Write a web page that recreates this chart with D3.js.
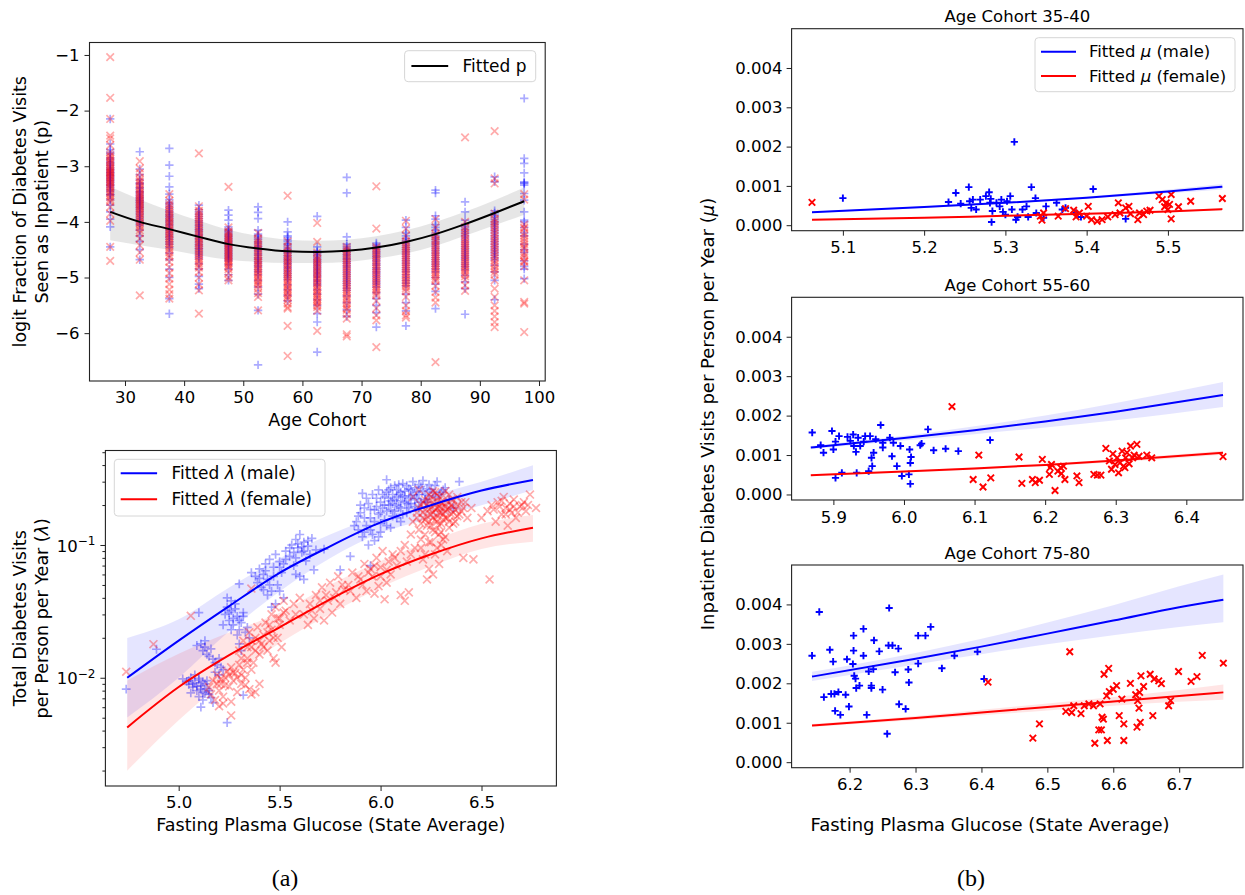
<!DOCTYPE html>
<html><head><meta charset="utf-8">
<script src="https://cdn.jsdelivr.net/npm/d3@7"></script>
<style>
body{margin:0;background:#fff;}
svg{font-family:"DejaVu Sans",sans-serif;}
</style></head><body>
<svg id="chart" width="1245" height="895"></svg>
<script>
// ================= DATA =================
// (a) top: logit of inpatient fraction by age cohort
const ageCohorts = [27.5,32.5,37.5,42.5,47.5,52.5,57.5,62.5,67.5,72.5,77.5,82.5,87.5,92.5,97.5];
const ageTicks = [30,40,50,60,70,80,90,100];
const logitTicks = [-6,-5,-4,-3,-2,-1];
const logitMale = [
 [-2.15,-2.6,-2.7,-2.78,-2.85,-2.92,-2.98,-3.02,-3.07,-3.12,-3.17,-3.22,-3.27,-3.33,-3.38,-3.45,-3.52,-3.6,-3.7,-3.82,-3.95,-4.09,-4.45],
 [-2.74,-3.05,-3.15,-3.24,-3.32,-3.4,-3.47,-3.53,-3.58,-3.63,-3.69,-3.75,-3.82,-3.9,-3.98,-4.06,-4.15,-4.25,-4.35,-4.5,-4.68],
 [-2.68,-2.98,-3.18,-3.37,-3.5,-3.6,-3.68,-3.76,-3.83,-3.9,-3.97,-4.04,-4.11,-4.19,-4.27,-4.36,-4.46,-4.56,-4.68,-4.85,-5.0,-5.38,-5.65],
 [-3.7,-3.78,-3.86,-3.94,-4.01,-4.08,-4.15,-4.22,-4.29,-4.36,-4.43,-4.5,-4.58,-4.66,-4.75,-4.85,-4.98,-5.12,-5.2],
 [-3.79,-3.88,-3.97,-4.09,-4.16,-4.22,-4.28,-4.34,-4.4,-4.46,-4.52,-4.58,-4.64,-4.7,-4.77,-4.85,-4.95,-5.05],
 [-3.73,-3.83,-3.94,-4.15,-4.22,-4.29,-4.36,-4.43,-4.5,-4.57,-4.64,-4.71,-4.78,-4.86,-4.95,-5.05,-5.17,-5.3,-5.59,-6.57],
 [-4.0,-4.18,-4.25,-4.32,-4.39,-4.46,-4.53,-4.6,-4.67,-4.74,-4.81,-4.88,-4.96,-5.04,-5.13,-5.22,-5.32,-5.42],
 [-3.9,-4.45,-4.52,-4.58,-4.64,-4.7,-4.76,-4.82,-4.88,-4.94,-5.0,-5.07,-5.14,-5.22,-5.3,-5.4,-5.5,-5.65,-5.8,-6.34],
 [-3.2,-3.48,-4.27,-4.4,-4.47,-4.54,-4.61,-4.68,-4.75,-4.82,-4.9,-4.98,-5.06,-5.14,-5.23,-5.33,-5.45,-5.58,-5.7],
 [-4.38,-4.44,-4.5,-4.57,-4.64,-4.71,-4.78,-4.85,-4.92,-5.0,-5.08,-5.17,-5.27,-5.38,-5.5,-5.63,-5.89],
 [-3.97,-4.1,-4.2,-4.3,-4.38,-4.46,-4.54,-4.62,-4.7,-4.78,-4.86,-4.95,-5.05,-5.15,-5.3,-5.45,-5.6,-5.87],
 [-3.43,-3.48,-3.89,-3.95,-4.05,-4.15,-4.24,-4.32,-4.4,-4.48,-4.56,-4.64,-4.72,-4.8,-4.9,-5.0,-5.12,-5.25,-5.56],
 [-3.64,-3.82,-3.97,-4.05,-4.13,-4.21,-4.29,-4.37,-4.45,-4.53,-4.61,-4.69,-4.77,-4.86,-4.96,-5.08,-5.2,-5.66],
 [-3.19,-3.28,-3.8,-3.88,-3.96,-4.04,-4.12,-4.2,-4.28,-4.36,-4.44,-4.52,-4.6,-4.68,-4.78,-4.9,-5.05,-5.4],
 [-1.78,-2.86,-2.95,-3.12,-3.28,-3.31,-3.49,-3.61,-3.82,-3.97,-4.1,-4.25,-4.4,-4.55,-4.7,-4.85,-5.02]
];
// additional states in the dense core of each cohort column (male)
const logitMaleCore = [
 [-2.75,-2.88,-2.95,-3.05,-3.1,-3.15,-3.2,-3.25,-3.3,-3.35,-3.42,-3.5],
 [-3.3,-3.38,-3.45,-3.5,-3.56,-3.61,-3.66,-3.72,-3.78,-3.86,-3.94,-4.02],
 [-3.65,-3.72,-3.8,-3.87,-3.93,-4.0,-4.07,-4.15,-4.23,-4.31,-4.4],
 [-3.82,-3.9,-3.98,-4.05,-4.12,-4.18,-4.25,-4.32,-4.4,-4.47,-4.54,-4.62],
 [-4.13,-4.19,-4.25,-4.31,-4.37,-4.43,-4.49,-4.55,-4.61,-4.67],
 [-4.25,-4.32,-4.39,-4.46,-4.53,-4.6,-4.67,-4.74,-4.81,-4.9],
 [-4.28,-4.35,-4.42,-4.49,-4.56,-4.63,-4.7,-4.77,-4.84,-4.92,-5.0],
 [-4.55,-4.61,-4.67,-4.73,-4.79,-4.85,-4.91,-4.97,-5.04,-5.11],
 [-4.44,-4.51,-4.58,-4.65,-4.72,-4.79,-4.86,-4.94,-5.02,-5.1,-5.19],
 [-4.41,-4.47,-4.54,-4.61,-4.68,-4.75,-4.82,-4.89,-4.96,-5.04,-5.12],
 [-4.25,-4.34,-4.42,-4.5,-4.58,-4.66,-4.74,-4.82,-4.9,-5.0,-5.1],
 [-4.1,-4.2,-4.28,-4.36,-4.44,-4.52,-4.6,-4.68,-4.76,-4.85],
 [-4.09,-4.17,-4.25,-4.33,-4.41,-4.49,-4.57,-4.65,-4.73,-4.81],
 [-3.84,-3.92,-4.0,-4.08,-4.16,-4.24,-4.32,-4.4,-4.48,-4.56,-4.64],
 [-3.3,-3.34,-4.0,-4.2,-4.5,-4.8]
];
const logitFemale = [
 [-1.04,-1.77,-2.15,-2.45,-2.5,-2.62,-2.75,-2.83,-2.9,-2.96,-3.0,-3.05,-3.1,-3.14,-3.19,-3.24,-3.29,-3.35,-3.41,-3.48,-3.56,-3.64,-3.73,-3.85,-3.98,-4.45,-4.7],
 [-2.91,-3.04,-3.12,-3.2,-3.28,-3.36,-3.43,-3.5,-3.56,-3.62,-3.68,-3.74,-3.8,-3.87,-3.94,-4.02,-4.1,-4.2,-4.3,-4.42,-4.55,-4.68,-5.32],
 [-3.5,-3.62,-3.72,-3.8,-3.88,-3.95,-4.02,-4.09,-4.16,-4.23,-4.3,-4.38,-4.46,-4.55,-4.64,-4.72,-4.82,-4.92,-5.02,-5.12,-5.22,-5.3,-5.38],
 [-2.77,-3.72,-3.8,-3.88,-3.96,-4.04,-4.12,-4.2,-4.28,-4.35,-4.42,-4.5,-4.58,-4.66,-4.74,-4.82,-4.9,-5.0,-5.12,-5.23,-5.65],
 [-3.37,-4.1,-4.17,-4.24,-4.3,-4.36,-4.42,-4.48,-4.54,-4.6,-4.66,-4.72,-4.78,-4.85,-4.92,-5.0,-5.05],
 [-4.2,-4.3,-4.38,-4.46,-4.54,-4.62,-4.7,-4.77,-4.84,-4.91,-4.98,-5.05,-5.12,-5.2,-5.28,-5.35,-5.59],
 [-3.53,-4.35,-4.45,-4.55,-4.63,-4.7,-4.77,-4.84,-4.91,-4.98,-5.05,-5.12,-5.19,-5.26,-5.33,-5.4,-5.47,-5.53,-5.56,-5.87,-6.41],
 [-4.02,-4.36,-4.55,-4.62,-4.69,-4.76,-4.83,-4.9,-4.97,-5.04,-5.11,-5.18,-5.25,-5.32,-5.39,-5.46,-5.53,-5.6,-5.96],
 [-4.45,-4.53,-4.61,-4.69,-4.77,-4.85,-4.93,-5.01,-5.09,-5.17,-5.25,-5.33,-5.41,-5.5,-5.58,-5.66,-5.74,-6.02,-6.06],
 [-3.36,-4.12,-4.45,-4.52,-4.6,-4.68,-4.76,-4.84,-4.92,-5.0,-5.08,-5.16,-5.24,-5.32,-5.42,-5.55,-5.68,-5.77,-6.25],
 [-3.98,-4.12,-4.25,-4.35,-4.44,-4.52,-4.6,-4.68,-4.76,-4.84,-4.92,-5.0,-5.08,-5.16,-5.25,-5.35,-5.5,-5.6,-5.68,-5.72],
 [-3.95,-4.1,-4.22,-4.32,-4.41,-4.5,-4.58,-4.66,-4.74,-4.82,-4.9,-4.98,-5.06,-5.15,-5.26,-5.36,-5.45,-6.52],
 [-2.48,-4.0,-4.1,-4.2,-4.3,-4.38,-4.46,-4.54,-4.62,-4.7,-4.78,-4.86,-4.94,-5.04,-5.14,-5.24],
 [-2.37,-3.22,-3.31,-3.85,-3.95,-4.05,-4.15,-4.25,-4.35,-4.45,-4.55,-4.65,-4.75,-4.85,-4.95,-5.05,-5.2,-5.35,-5.5,-5.6,-5.7,-5.8,-5.89],
 [-3.5,-3.6,-4.05,-4.12,-4.2,-4.3,-4.4,-4.48,-4.56,-4.64,-4.72,-4.8,-5.05,-5.44,-5.47,-5.98]
];
const logitFemaleCore = [
 [-2.8,-2.87,-2.93,-3.03,-3.08,-3.12,-3.17,-3.22,-3.27,-3.32,-3.38,-3.45,-3.52,-3.6],
 [-3.25,-3.32,-3.4,-3.47,-3.53,-3.59,-3.65,-3.71,-3.77,-3.84,-3.91,-3.98,-4.06,-4.15],
 [-3.68,-3.76,-3.84,-3.92,-3.99,-4.06,-4.13,-4.2,-4.27,-4.34,-4.42,-4.5,-4.6],
 [-3.84,-3.92,-4.0,-4.08,-4.16,-4.24,-4.31,-4.38,-4.46,-4.54,-4.62,-4.7,-4.78],
 [-4.2,-4.27,-4.33,-4.39,-4.45,-4.51,-4.57,-4.63,-4.69,-4.75,-4.81],
 [-4.34,-4.42,-4.5,-4.58,-4.66,-4.73,-4.8,-4.87,-4.94,-5.01,-5.08,-5.15],
 [-4.5,-4.59,-4.66,-4.73,-4.8,-4.87,-4.94,-5.01,-5.08,-5.15,-5.22,-5.29,-5.36],
 [-4.66,-4.73,-4.8,-4.87,-4.94,-5.01,-5.08,-5.15,-5.22,-5.29,-5.36,-5.43,-5.5],
 [-4.49,-4.57,-4.65,-4.73,-4.81,-4.89,-4.97,-5.05,-5.13,-5.21,-5.29,-5.37,-5.46,-5.55],
 [-4.48,-4.56,-4.64,-4.72,-4.8,-4.88,-4.96,-5.04,-5.12,-5.2,-5.28],
 [-4.4,-4.48,-4.56,-4.64,-4.72,-4.8,-4.88,-4.96,-5.04,-5.12,-5.2],
 [-4.26,-4.36,-4.45,-4.54,-4.62,-4.7,-4.78,-4.86,-4.94,-5.02],
 [-4.15,-4.25,-4.34,-4.42,-4.5,-4.58,-4.66,-4.74,-4.82,-4.9,-4.98],
 [-4.0,-4.1,-4.2,-4.3,-4.4,-4.5,-4.6,-4.7,-4.8,-4.9],
 [-4.1,-4.25,-4.35,-4.45,-4.6,-4.7]
];
const logitFit      = [-3.82,-4.00,-4.13,-4.27,-4.40,-4.48,-4.53,-4.54,-4.52,-4.46,-4.36,-4.22,-4.04,-3.84,-3.63];
const logitFitLower = [-4.33,-4.42,-4.50,-4.60,-4.68,-4.72,-4.74,-4.74,-4.72,-4.66,-4.57,-4.43,-4.25,-4.06,-3.87];
const logitFitUpper = [-3.37,-3.60,-3.80,-3.98,-4.14,-4.25,-4.32,-4.34,-4.32,-4.26,-4.15,-4.00,-3.82,-3.61,-3.38];

// (a) bottom: total visits vs fasting plasma glucose (log scale)
const fpgTicksA = [5.0,5.5,6.0,6.5];
const lambdaMajorTicks = [0.01,0.1];
const lambdaMinorTicks = [0.002,0.003,0.004,0.005,0.006,0.007,0.008,0.009,0.02,0.03,0.04,0.05,0.06,0.07,0.08,0.09,0.2,0.3,0.4,0.5];
const lambdaMale = [
 [4.74,0.0082],[4.89,0.0164],[5.10,0.0309],[5.30,0.051],[5.24,0.0046],[5.32,0.0074],[5.11,0.0060],
 [5.02,0.0098],[5.04,0.0094],[5.05,0.0089],[5.06,0.0100],[5.07,0.0085],[5.08,0.0092],[5.09,0.0080],[5.10,0.0096],[5.11,0.0087],[5.12,0.0078],[5.13,0.0090],[5.14,0.0083],[5.15,0.0075],[5.16,0.0071],[5.08,0.0105],[5.12,0.0068],[5.06,0.0077],[5.14,0.0095],[5.17,0.0065],[5.10,0.0072],
 [5.09,0.0175],[5.11,0.0180],[5.12,0.0160],[5.13,0.0170],[5.14,0.0150],[5.15,0.0145],[5.16,0.0165],[5.17,0.0138],[5.18,0.0130],[5.19,0.0125],[5.20,0.0140],[5.21,0.0120],[5.22,0.0115],[5.13,0.0190],[5.18,0.0110],[5.20,0.0105],
 [5.23,0.030],[5.24,0.034],[5.25,0.027],[5.26,0.032],[5.27,0.025],[5.28,0.036],[5.29,0.029],[5.30,0.023],[5.31,0.026],[5.32,0.031],[5.33,0.022],[5.34,0.024],[5.26,0.038],[5.29,0.021],[5.35,0.020],[5.30,0.018],[5.31,0.016],[5.24,0.040],
 [5.38,0.058],[5.39,0.052],[5.40,0.066],[5.41,0.048],[5.42,0.060],[5.43,0.072],[5.44,0.055],[5.45,0.078],[5.46,0.045],[5.47,0.068],[5.48,0.085],[5.49,0.050],[5.50,0.075],[5.51,0.062],[5.52,0.040],[5.44,0.042],[5.48,0.036],[5.46,0.034],[5.42,0.046],
 [5.53,0.090],[5.55,0.082],[5.56,0.100],[5.57,0.070],[5.58,0.110],[5.59,0.095],[5.60,0.120],[5.61,0.088],[5.62,0.105],[5.63,0.076],[5.64,0.098],[5.65,0.085],[5.66,0.112],[5.67,0.065],[5.68,0.092],[5.60,0.058],[5.62,0.055],[5.58,0.060],
 [5.80,0.065],[5.85,0.082],[5.72,0.093],[5.95,0.070],
 [5.88,0.150],[5.89,0.130],[5.90,0.175],[5.91,0.115],[5.92,0.190],[5.93,0.140],[5.94,0.205],[5.95,0.160],[5.96,0.120],[5.97,0.185],[5.98,0.225],[5.99,0.170],[6.00,0.145],[6.01,0.240],[6.02,0.200],[6.03,0.310],[6.03,0.180],[6.04,0.260],[6.05,0.215],[6.06,0.165],[6.07,0.280],[6.08,0.230],[6.09,0.195],[6.10,0.250],[6.11,0.290],[6.12,0.210],[6.13,0.175],[6.14,0.265],[6.15,0.235],[6.16,0.300],[6.17,0.220],[6.18,0.250],[6.19,0.190],[6.20,0.275],[6.21,0.305],[6.22,0.240],[6.23,0.210],[6.24,0.285],[6.25,0.260],[6.27,0.230],[6.28,0.300],[6.30,0.250],[6.32,0.270],[6.34,0.220],[5.94,0.100],[5.97,0.108],[6.00,0.125],[6.05,0.135],[6.10,0.150],[5.91,0.245],[6.39,0.300],[6.36,0.190]
];
const lambdaMaleDense = [
 [5.90,0.200],[5.92,0.160],[5.93,0.225],[5.95,0.185],[5.96,0.240],[5.97,0.150],[5.98,0.195],[5.99,0.260],[6.00,0.210],[6.00,0.175],[6.01,0.190],[6.02,0.230],[6.02,0.155],[6.03,0.250],[6.04,0.200],[6.04,0.225],[6.05,0.185],[6.05,0.270],[6.06,0.240],[6.06,0.205],[6.07,0.220],[6.07,0.180],[6.08,0.260],[6.08,0.200],[6.09,0.240],[6.09,0.285],[6.10,0.215],[6.10,0.190],[6.11,0.235],[6.11,0.170],[6.12,0.255],[6.12,0.230],[6.13,0.205],[6.13,0.280],[6.14,0.225],[6.14,0.190],[6.15,0.260],[6.15,0.205],[6.16,0.240],[6.17,0.270],[6.17,0.195],[6.18,0.225],[6.19,0.285],[6.19,0.240],[6.20,0.210],[6.21,0.255],[6.22,0.220],[6.23,0.265],[6.24,0.235],[6.26,0.250],[6.27,0.280],[6.29,0.240],[6.31,0.260],[5.95,0.130],[5.99,0.115],[6.03,0.140],[5.92,0.125],[5.89,0.165],[5.87,0.140],[6.08,0.160],
 [5.40,0.056],[5.43,0.064],[5.45,0.050],[5.47,0.058],[5.50,0.068],[5.53,0.078],[5.55,0.095],[5.57,0.088],[5.59,0.102],[5.61,0.097],[5.62,0.090],[5.64,0.108],[5.58,0.080],[5.52,0.072],[5.36,0.062],[5.50,0.045],
 [5.05,0.0095],[5.07,0.0090],[5.09,0.0086],[5.11,0.0082],[5.13,0.0076],[5.15,0.0080],[5.12,0.0093],[5.10,0.0099],
 [5.25,0.031],[5.27,0.028],[5.28,0.033],[5.30,0.027],[5.32,0.029],[5.22,0.025],[5.26,0.023]
];
const lambdaFemale = [
 [4.74,0.0111],[4.875,0.0179],[5.06,0.0293],[5.26,0.0052],[5.36,0.047],[5.20,0.0061],
 [5.15,0.0085],[5.16,0.0075],[5.17,0.0095],[5.18,0.0068],[5.19,0.0105],[5.20,0.0080],[5.21,0.0090],[5.22,0.0072],[5.23,0.0100],[5.24,0.0112],[5.25,0.0086],[5.26,0.0120],[5.27,0.0095],[5.28,0.0108],[5.29,0.0078],[5.30,0.0125],[5.31,0.0090],[5.32,0.0115],[5.33,0.0100],[5.34,0.0130],[5.35,0.0082],[5.36,0.0075],[5.38,0.0078],[5.40,0.0090],[5.22,0.0064],[5.26,0.0066],
 [5.30,0.016],[5.32,0.019],[5.34,0.014],[5.35,0.022],[5.36,0.017],[5.37,0.013],[5.38,0.020],[5.39,0.024],[5.40,0.015],[5.41,0.018],[5.42,0.021],[5.43,0.026],[5.44,0.016],[5.45,0.019],[5.46,0.023],[5.47,0.014],[5.48,0.013],[5.49,0.020],[5.50,0.025],[5.51,0.017],
 [5.46,0.030],[5.48,0.034],[5.50,0.028],[5.52,0.038],[5.53,0.032],[5.55,0.027],[5.57,0.036],[5.58,0.030],[5.60,0.040],
 [5.62,0.030],[5.64,0.025],[5.65,0.036],[5.67,0.028],[5.68,0.042],[5.70,0.033],[5.71,0.048],[5.72,0.027],[5.74,0.038],[5.75,0.052],[5.76,0.031],[5.78,0.044],[5.79,0.058],[5.80,0.036],[5.82,0.046],
 [5.84,0.050],[5.86,0.062],[5.88,0.040],[5.90,0.055],[5.92,0.072],[5.93,0.045],[5.95,0.066],[5.96,0.058],[5.98,0.080],[5.99,0.049],[6.00,0.068],[6.01,0.090],[6.03,0.052],[6.04,0.075],[6.05,0.060],[6.06,0.085],[6.08,0.070],[6.10,0.042],[6.12,0.038],[6.14,0.044],[6.02,0.039],[5.97,0.043],
 [6.15,0.120],[6.16,0.150],[6.17,0.095],[6.18,0.175],[6.19,0.130],[6.20,0.200],[6.20,0.110],[6.21,0.160],[6.22,0.220],[6.22,0.085],[6.23,0.140],[6.24,0.185],[6.24,0.240],[6.25,0.105],[6.25,0.170],[6.26,0.210],[6.26,0.130],[6.27,0.155],[6.27,0.250],[6.28,0.190],[6.28,0.095],[6.29,0.120],[6.29,0.230],[6.30,0.175],[6.30,0.145],[6.31,0.205],[6.31,0.110],[6.32,0.160],[6.32,0.255],[6.33,0.185],[6.34,0.135],[6.35,0.220],[6.35,0.170],[6.36,0.195],[6.37,0.150],[6.38,0.230],[6.40,0.180],[6.42,0.210],[6.43,0.160],[6.26,0.060],[6.24,0.066],[6.29,0.072],[6.21,0.078],[6.33,0.090],[6.19,0.260],[6.16,0.230],[6.23,0.055],[6.12,0.100],
 [6.54,0.055],[6.41,0.080],[6.46,0.078],
 [6.53,0.180],[6.55,0.200],[6.57,0.150],[6.58,0.210],[6.60,0.170],[6.61,0.230],[6.62,0.190],[6.63,0.140],[6.64,0.205],[6.65,0.175],[6.66,0.220],[6.67,0.160],[6.69,0.195],[6.71,0.210],[6.72,0.180],[6.74,0.240],[6.77,0.190],[6.50,0.160],[6.45,0.190]
];
const lambdaFemaleDense = [
 [6.18,0.160],[6.19,0.190],[6.20,0.145],[6.21,0.175],[6.21,0.210],[6.22,0.155],[6.22,0.185],[6.23,0.200],[6.23,0.165],[6.24,0.150],[6.24,0.215],[6.25,0.190],[6.25,0.140],[6.25,0.230],[6.26,0.175],[6.26,0.160],[6.27,0.200],[6.27,0.185],[6.27,0.125],[6.28,0.215],[6.28,0.165],[6.28,0.150],[6.29,0.195],[6.29,0.175],[6.29,0.140],[6.30,0.210],[6.30,0.190],[6.30,0.125],[6.31,0.170],[6.31,0.155],[6.31,0.235],[6.32,0.195],[6.32,0.180],[6.33,0.210],[6.33,0.160],[6.34,0.190],[6.34,0.240],[6.35,0.200],[6.36,0.175],[6.36,0.220],[6.37,0.185],[6.38,0.200],[6.39,0.170],[6.40,0.210],[6.41,0.190],[6.28,0.240],[6.26,0.255],[6.24,0.105],[6.30,0.100],[6.32,0.115],[6.27,0.085],[6.22,0.120],[6.20,0.095],[6.34,0.150],[6.36,0.145],[6.38,0.165],
 [5.19,0.0090],[5.21,0.0098],[5.23,0.0088],[5.25,0.0105],[5.27,0.0110],[5.29,0.0100],[5.31,0.0105],[5.33,0.0088],[5.36,0.0115],[5.38,0.016],[5.40,0.019],[5.42,0.017],[5.44,0.022],[5.36,0.019],[5.34,0.017],[5.31,0.014],[5.45,0.025],[5.47,0.020],[5.49,0.028],[5.52,0.031],
 [5.66,0.032],[5.70,0.038],[5.73,0.042],[5.77,0.040],[5.81,0.050],[5.85,0.045],[5.89,0.058],[5.91,0.050],[5.94,0.062],[5.97,0.070],[6.00,0.058],[6.03,0.065],[6.07,0.080],[6.10,0.090],[6.13,0.075],[6.15,0.085],
 [6.56,0.185],[6.59,0.195],[6.62,0.170],[6.64,0.185],[6.66,0.195],[6.68,0.175],[6.70,0.200],[6.60,0.215],[6.73,0.200]
];
const fitGlucose = [4.745,5.0,5.25,5.5,5.75,6.0,6.25,6.5,6.755];
const lambdaMaleFit   = [0.0100,0.01905,0.03467,0.06166,0.0977,0.1479,0.1995,0.2570,0.3090];
const lambdaMaleLo    = [0.00501,0.0100,0.02239,0.04467,0.07943,0.1230,0.1585,0.1995,0.2600];
const lambdaMaleHi    = [0.01995,0.02754,0.04786,0.07943,0.1202,0.1698,0.2344,0.3000,0.3981];
const lambdaFemaleFit = [0.004227,0.008511,0.01479,0.02399,0.03890,0.06026,0.08511,0.1122,0.1349];
const lambdaFemaleLo  = [0.001995,0.004786,0.0100,0.01820,0.03020,0.04786,0.06918,0.09333,0.1059];
const lambdaFemaleHi  = [0.00955,0.01514,0.02188,0.03090,0.05012,0.07586,0.1072,0.1445,0.1679];

// (b) inpatient visits per person per year by cohort
const cohortTitles = ['Age Cohort 35-40','Age Cohort 55-60','Age Cohort 75-80'];
const muTicks = [0,0.001,0.002,0.003,0.004];
const fpgTicks35 = [5.1,5.2,5.3,5.4,5.5];
const fpgTicks55 = [5.9,6.0,6.1,6.2,6.3,6.4];
const fpgTicks75 = [6.2,6.3,6.4,6.5,6.6,6.7];
const mu35Male = [[5.100,0.00069],[5.230,0.00059],[5.239,0.00082],[5.245,0.00055],[5.255,0.00097],[5.256,0.00061],[5.258,0.00044],[5.260,0.00065],[5.264,0.00040],[5.269,0.00065],[5.276,0.00074],[5.280,0.00084],[5.281,0.00057],[5.282,0.00067],[5.283,0.00008],[5.284,0.00036],[5.289,0.00057],[5.293,0.00048],[5.295,0.00065],[5.297,0.00034],[5.300,0.00027],[5.302,0.00061],[5.306,0.00074],[5.308,0.00040],[5.311,0.00212],[5.313,0.00014],[5.315,0.00021],[5.321,0.00040],[5.326,0.00048],[5.328,0.00021],[5.332,0.00097],[5.337,0.00069],[5.338,0.00031],[5.347,0.00019],[5.350,0.00048],[5.363,0.00057],[5.370,0.00040],[5.374,0.00044],[5.387,0.00031],[5.393,0.00021],[5.408,0.00092],[5.448,0.00016]];
const mu35Female = [[5.062,0.00058],[5.343,0.00023],[5.345,0.00013],[5.347,0.00031],[5.365,0.00023],[5.374,0.00042],[5.384,0.00038],[5.387,0.00021],[5.391,0.00031],[5.400,0.00023],[5.402,0.00048],[5.406,0.00014],[5.413,0.00010],[5.419,0.00014],[5.426,0.00021],[5.435,0.00027],[5.439,0.00057],[5.441,0.00031],[5.448,0.00044],[5.452,0.00048],[5.454,0.00029],[5.463,0.00014],[5.465,0.00031],[5.470,0.00027],[5.474,0.00036],[5.478,0.00038],[5.489,0.00074],[5.493,0.00065],[5.496,0.00047],[5.498,0.00057],[5.500,0.00040],[5.502,0.00053],[5.504,0.00078],[5.504,0.00016],[5.513,0.00047],[5.528,0.00061],[5.567,0.00068]];
const mu55Male = [[5.870,0.00157],[5.882,0.00125],[5.886,0.00106],[5.898,0.00161],[5.900,0.00114],[5.903,0.00134],[5.903,0.00042],[5.908,0.00148],[5.912,0.00055],[5.920,0.00146],[5.924,0.00136],[5.928,0.00152],[5.929,0.00123],[5.932,0.00108],[5.933,0.00055],[5.935,0.00144],[5.938,0.00123],[5.943,0.00134],[5.945,0.00148],[5.950,0.00059],[5.952,0.00148],[5.954,0.00093],[5.955,0.00072],[5.957,0.00106],[5.960,0.00140],[5.967,0.00176],[5.970,0.00131],[5.970,0.00119],[5.980,0.00144],[5.983,0.00097],[5.985,0.00131],[5.990,0.00072],[5.995,0.00123],[5.997,0.00047],[6.007,0.00051],[6.008,0.00114],[6.009,0.00080],[6.009,0.00027],[6.010,0.00095],[6.023,0.00125],[6.025,0.00129],[6.034,0.00165],[6.042,0.00112],[6.059,0.00116],[6.077,0.00110],[6.122,0.00138]];
const mu55Female = [[6.068,0.00223],[6.098,0.00038],[6.106,0.00100],[6.112,0.00019],[6.123,0.00042],[6.163,0.00095],[6.167,0.00028],[6.182,0.00038],[6.186,0.00030],[6.192,0.00036],[6.196,0.00089],[6.206,0.00051],[6.207,0.00068],[6.209,0.00076],[6.214,0.00010],[6.218,0.00059],[6.222,0.00068],[6.223,0.00053],[6.226,0.00072],[6.228,0.00038],[6.245,0.00047],[6.248,0.00030],[6.269,0.00051],[6.274,0.00049],[6.279,0.00049],[6.286,0.00117],[6.291,0.00085],[6.294,0.00064],[6.296,0.00103],[6.299,0.00076],[6.302,0.00093],[6.304,0.00055],[6.306,0.00080],[6.309,0.00110],[6.311,0.00072],[6.313,0.00068],[6.314,0.00093],[6.316,0.00106],[6.319,0.00078],[6.321,0.00123],[6.324,0.00093],[6.326,0.00100],[6.330,0.00127],[6.333,0.00097],[6.344,0.00100],[6.351,0.00093],[6.452,0.00096]];
const mu75Male = [[6.143,0.00270],[6.154,0.00381],[6.161,0.00165],[6.170,0.00285],[6.172,0.00173],[6.175,0.00255],[6.177,0.00173],[6.178,0.00130],[6.183,0.00178],[6.186,0.00120],[6.194,0.00171],[6.196,0.00261],[6.199,0.00141],[6.205,0.00249],[6.206,0.00321],[6.206,0.00283],[6.207,0.00219],[6.209,0.00212],[6.210,0.00188],[6.215,0.00194],[6.221,0.00338],[6.221,0.00270],[6.226,0.00120],[6.229,0.00230],[6.233,0.00194],[6.233,0.00188],[6.236,0.00236],[6.237,0.00309],[6.245,0.00281],[6.250,0.00184],[6.257,0.00072],[6.260,0.00391],[6.259,0.00296],[6.265,0.00296],[6.269,0.00228],[6.274,0.00288],[6.275,0.00147],[6.285,0.00135],[6.289,0.00235],[6.290,0.00202],[6.304,0.00250],[6.304,0.00321],[6.315,0.00321],[6.323,0.00343],[6.340,0.00238],[6.359,0.00270],[6.394,0.00280],[6.404,0.00211]];
const mu75Female = [[6.410,0.00203],[6.478,0.00061],[6.488,0.00097],[6.528,0.00129],[6.534,0.00280],[6.537,0.00126],[6.540,0.00143],[6.551,0.00123],[6.556,0.00143],[6.563,0.00148],[6.570,0.00143],[6.572,0.00048],[6.578,0.00082],[6.580,0.00148],[6.582,0.00082],[6.583,0.00114],[6.585,0.00109],[6.586,0.00223],[6.590,0.00168],[6.591,0.00055],[6.593,0.00238],[6.594,0.00179],[6.600,0.00185],[6.605,0.00194],[6.609,0.00118],[6.613,0.00160],[6.616,0.00097],[6.616,0.00055],[6.626,0.00200],[6.634,0.00171],[6.636,0.00089],[6.637,0.00156],[6.639,0.00137],[6.640,0.00177],[6.641,0.00101],[6.642,0.00219],[6.646,0.00192],[6.656,0.00223],[6.660,0.00118],[6.662,0.00211],[6.669,0.00206],[6.673,0.00199],[6.684,0.00143],[6.687,0.00156],[6.699,0.00230],[6.718,0.00205],[6.727,0.00217],[6.735,0.00271],[6.767,0.00251]];
// fitted mu curves: x, fit, lower, upper
const muFit35X = [5.062,5.2,5.3,5.4,5.5,5.567];
const muFit35Male   = [0.00033,0.00046,0.00057,0.00070,0.00086,0.00098];
const muFit35MaleLo = [0.00031,0.00044,0.00055,0.00067,0.00081,0.00091];
const muFit35MaleHi = [0.00035,0.00048,0.00059,0.00073,0.00091,0.00105];
const muFit35Fem    = [0.00014,0.00019,0.00024,0.00029,0.00035,0.00041];
const muFit35FemLo  = [0.00012,0.00017,0.00022,0.00027,0.00033,0.00038];
const muFit35FemHi  = [0.00016,0.00021,0.00026,0.00031,0.00037,0.00044];
const muFit55X = [5.868,6.0,6.1,6.2,6.3,6.452];
const muFit55Male   = [0.00119,0.00143,0.00163,0.00185,0.00210,0.00252];
const muFit55MaleLo = [0.00115,0.00137,0.00153,0.00170,0.00188,0.00222];
const muFit55MaleHi = [0.00123,0.00149,0.00173,0.00200,0.00232,0.00285];
const muFit55Fem    = [0.00049,0.00058,0.00066,0.00075,0.00086,0.00106];
const muFit55FemLo  = [0.00047,0.00056,0.00063,0.00072,0.00082,0.00101];
const muFit55FemHi  = [0.00051,0.00060,0.00069,0.00078,0.00090,0.00111];
const muFit75X = [6.143,6.3,6.4,6.5,6.6,6.7,6.767];
const muFit75Male   = [0.00217,0.00262,0.00293,0.00326,0.00359,0.00393,0.00412];
const muFit75MaleLo = [0.00206,0.00248,0.00274,0.00299,0.00322,0.00343,0.00355];
const muFit75MaleHi = [0.00229,0.00277,0.00313,0.00354,0.00398,0.00446,0.00476];
const muFit75Fem    = [0.00093,0.00112,0.00126,0.00140,0.00154,0.00168,0.00177];
const muFit75FemLo  = [0.00089,0.00107,0.00119,0.00131,0.00143,0.00153,0.00158];
const muFit75FemHi  = [0.00097,0.00117,0.00133,0.00149,0.00165,0.00183,0.00197];

// ================= DRAWING =================
const svg = d3.select('#chart');
const BLUE = '#0000ff', RED = '#ff0000';
const FONT = '"DejaVu Sans", sans-serif';
const plusPath = s => `M${-s},0H${s}M0,${-s}V${s}`;
const crossPath = s => `M${-s},${-s}L${s},${s}M${-s},${s}L${s},${-s}`;

function markers(g, pts, xs, ys, shape, color, op, size, sw){
  g.append('g').selectAll('path').data(pts).join('path')
   .attr('transform', d => `translate(${xs(d[0])},${ys(d[1])})`)
   .attr('d', shape === '+' ? plusPath(size) : crossPath(size*0.9))
   .attr('stroke', color).attr('stroke-opacity', op).attr('stroke-width', sw).attr('fill','none');
}
function frame(g, x0, y0, x1, y1){
  g.append('rect').attr('x',x0).attr('y',y0).attr('width',x1-x0).attr('height',y1-y0)
   .attr('fill','none').attr('stroke','#222').attr('stroke-width',1.1);
}
function styleAxis(a, fs){
  a.attr('font-family', FONT).attr('font-size', fs);
  a.select('.domain').remove();
  a.selectAll('.tick line').attr('stroke','#222').attr('stroke-width',1);
  a.selectAll('.tick text').attr('fill','#000');
}
function rotLabel(g, cx, cy, fs){
  return g.append('text').attr('transform',`translate(${cx},${cy}) rotate(-90)`)
   .attr('text-anchor','middle').attr('dy','0.35em').attr('font-size',fs).attr('font-family',FONT);
}
function legendBox(g, x0, y0, x1, y1){
  g.append('rect').attr('x',x0).attr('y',y0).attr('width',x1-x0).attr('height',y1-y0)
   .attr('rx',3.5).attr('fill','#fff').attr('fill-opacity',0.8).attr('stroke','#d6d6d6').attr('stroke-width',1);
}
const minusFmt = t => (t < 0 ? '\u2212' : '') + Math.abs(t);
const SCATTER_OP = 0.33, SCATTER_W = 1.7;

// ---------- (a) top ----------
{
  const X0=89.5, X1=545.2, Y0=42.5, Y1=381;
  const xs = d3.scaleLinear().domain([24,101.05]).range([X0,X1]);
  const ys = d3.scaleLinear().domain([-6.86,-0.776]).range([Y1,Y0]);
  const g = svg.append('g');
  const band = ageCohorts.map((a,i)=>({a, lo:logitFitLower[i], hi:logitFitUpper[i], f:logitFit[i]}));
  g.append('path').datum(band)
   .attr('d', d3.area().x(d=>xs(d.a)).y0(d=>ys(d.lo)).y1(d=>ys(d.hi)).curve(d3.curveMonotoneX))
   .attr('fill','#c8c8c8').attr('fill-opacity',0.45);
  const mPts = [], fPts = [];
  ageCohorts.forEach((a,i)=>{
    logitMale[i].concat(logitMaleCore[i]).forEach(v=>mPts.push([a,v]));
    logitFemale[i].concat(logitFemaleCore[i]).forEach(v=>fPts.push([a,v]));
  });
  markers(g, mPts, xs, ys, '+', BLUE, SCATTER_OP, 4.2, SCATTER_W);
  markers(g, fPts, xs, ys, 'x', RED, SCATTER_OP, 4.2, SCATTER_W);
  g.append('path').datum(band)
   .attr('d', d3.line().x(d=>xs(d.a)).y(d=>ys(d.f)).curve(d3.curveMonotoneX))
   .attr('fill','none').attr('stroke','#000').attr('stroke-width',2);
  frame(g, X0, Y0, X1, Y1);
  const ax = g.append('g').attr('transform',`translate(0,${Y1})`)
   .call(d3.axisBottom(xs).tickValues(ageTicks).tickSize(5).tickPadding(5).tickFormat(d3.format('d')));
  styleAxis(ax, 16.5);
  const ay = g.append('g').attr('transform',`translate(${X0},0)`)
   .call(d3.axisLeft(ys).tickValues(logitTicks).tickSize(5).tickPadding(5).tickFormat(minusFmt));
  styleAxis(ay, 16.5);
  g.append('text').attr('x',(X0+X1)/2).attr('y',426).attr('text-anchor','middle')
   .attr('font-size',17.5).attr('font-family',FONT).text('Age Cohort');
  rotLabel(g, 20, (Y0+Y1)/2, 17.5).text('logit Fraction of Diabetes Visits');
  rotLabel(g, 42, (Y0+Y1)/2, 17.5).text('Seen as Inpatient (p)');
  legendBox(g, 404.6, 50.7, 535.7, 81.7);
  g.append('line').attr('x1',411.4).attr('x2',448.2).attr('y1',66).attr('y2',66).attr('stroke','#000').attr('stroke-width',2);
  g.append('text').attr('x',462.5).attr('y',66).attr('dy','0.35em').attr('font-size',17).attr('font-family',FONT).text('Fitted p');
}

// ---------- (a) bottom ----------
{
  const X0=105.4, X1=556.4, Y0=450.5, Y1=786;
  const xs = d3.scaleLinear().domain([4.637,6.871]).range([X0,X1]);
  const ys = d3.scaleLog().domain([0.00153,0.515]).range([Y1,Y0]);
  const g = svg.append('g');
  const mBand = fitGlucose.map((x,i)=>({x, lo:lambdaMaleLo[i], hi:lambdaMaleHi[i], f:lambdaMaleFit[i]}));
  const fBand = fitGlucose.map((x,i)=>({x, lo:lambdaFemaleLo[i], hi:lambdaFemaleHi[i], f:lambdaFemaleFit[i]}));
  const area = d3.area().x(d=>xs(d.x)).y0(d=>ys(d.lo)).y1(d=>ys(d.hi)).curve(d3.curveMonotoneX);
  const line = d3.line().x(d=>xs(d.x)).y(d=>ys(d.f)).curve(d3.curveMonotoneX);
  g.append('path').datum(mBand).attr('d',area).attr('fill',BLUE).attr('fill-opacity',0.1);
  g.append('path').datum(fBand).attr('d',area).attr('fill',RED).attr('fill-opacity',0.1);
  markers(g, lambdaMale.concat(lambdaMaleDense), xs, ys, '+', BLUE, SCATTER_OP, 4.4, SCATTER_W);
  markers(g, lambdaFemale.concat(lambdaFemaleDense), xs, ys, 'x', RED, SCATTER_OP, 4.4, SCATTER_W);
  g.append('path').datum(mBand).attr('d',line).attr('fill','none').attr('stroke',BLUE).attr('stroke-width',2);
  g.append('path').datum(fBand).attr('d',line).attr('fill','none').attr('stroke',RED).attr('stroke-width',2);
  frame(g, X0, Y0, X1, Y1);
  const ax = g.append('g').attr('transform',`translate(0,${Y1})`)
   .call(d3.axisBottom(xs).tickValues(fpgTicksA).tickSize(5).tickPadding(5).tickFormat(d3.format('.1f')));
  styleAxis(ax, 16.5);
  const ay = g.append('g').attr('transform',`translate(${X0},0)`)
   .call(d3.axisLeft(ys).tickValues(lambdaMajorTicks).tickSize(5).tickPadding(5).tickFormat(()=>''));
  styleAxis(ay, 16.5);
  const ayMinor = g.append('g').attr('transform',`translate(${X0},0)`)
   .call(d3.axisLeft(ys).tickValues(lambdaMinorTicks).tickSize(3).tickFormat(()=>''));
  styleAxis(ayMinor, 16.5);
  lambdaMajorTicks.forEach(t=>{
    const tx = g.append('text').attr('x',X0-10).attr('y',ys(t)).attr('dy','0.4em')
      .attr('text-anchor','end').attr('font-size',16.5).attr('font-family',FONT);
    tx.append('tspan').text('10');
    tx.append('tspan').attr('dy','-0.55em').attr('font-size',12).text('\u2212' + Math.round(-Math.log10(t)));
  });
  g.append('text').attr('x',(X0+X1)/2).attr('y',831).attr('text-anchor','middle')
   .attr('font-size',17.5).attr('font-family',FONT).text('Fasting Plasma Glucose (State Average)');
  rotLabel(g, 20, (Y0+Y1)/2, 17.5).text('Total Diabetes Visits');
  const l2 = rotLabel(g, 42, (Y0+Y1)/2, 17.5);
  l2.append('tspan').text('per Person per Year (');
  l2.append('tspan').attr('font-style','italic').text('\u03bb');
  l2.append('tspan').text(')');
  legendBox(g, 114.3, 459.3, 325, 516);
  [[BLUE,'male',473.3],[RED,'female',499.3]].forEach(([c,lab,yy])=>{
    g.append('line').attr('x1',120.7).attr('x2',157.1).attr('y1',yy).attr('y2',yy).attr('stroke',c).attr('stroke-width',2);
    const t = g.append('text').attr('x',171.4).attr('y',yy).attr('dy','0.35em').attr('font-size',17).attr('font-family',FONT);
    t.append('tspan').text('Fitted ');
    t.append('tspan').attr('font-style','italic').text('\u03bb');
    t.append('tspan').text(' (' + lab + ')');
  });
}

// ---------- (b) panels ----------
const panelsB = [
  {title:cohortTitles[0], y0:28.7, y1:230.7, xd:[5.0369,5.5924], ticks:fpgTicks35, male:mu35Male, fem:mu35Female,
   fx:muFit35X, fm:muFit35Male, fmLo:muFit35MaleLo, fmHi:muFit35MaleHi, ff:muFit35Fem, ffLo:muFit35FemLo, ffHi:muFit35FemHi, legend:true},
  {title:cohortTitles[1], y0:297.3, y1:500, xd:[5.8408,6.4803], ticks:fpgTicks55, male:mu55Male, fem:mu55Female,
   fx:muFit55X, fm:muFit55Male, fmLo:muFit55MaleLo, fmHi:muFit55MaleHi, ff:muFit55Fem, ffLo:muFit55FemLo, ffHi:muFit55FemHi},
  {title:cohortTitles[2], y0:565, y1:767.7, xd:[6.112,6.7968], ticks:fpgTicks75, male:mu75Male, fem:mu75Female,
   fx:muFit75X, fm:muFit75Male, fmLo:muFit75MaleLo, fmHi:muFit75MaleHi, ff:muFit75Fem, ffLo:muFit75FemLo, ffHi:muFit75FemHi}
];
const BX0 = 791.6, BX1 = 1243;
panelsB.forEach(p=>{
  const xs = d3.scaleLinear().domain(p.xd).range([BX0,BX1]);
  const ys = d3.scaleLinear().domain([-0.00014,0.005]).range([p.y1,p.y0]);
  const g = svg.append('g');
  const mB = p.fx.map((x,i)=>({x, f:p.fm[i], lo:p.fmLo[i], hi:p.fmHi[i]}));
  const fB = p.fx.map((x,i)=>({x, f:p.ff[i], lo:p.ffLo[i], hi:p.ffHi[i]}));
  const area = d3.area().x(d=>xs(d.x)).y0(d=>ys(d.lo)).y1(d=>ys(d.hi)).curve(d3.curveMonotoneX);
  const line = d3.line().x(d=>xs(d.x)).y(d=>ys(d.f)).curve(d3.curveMonotoneX);
  g.append('path').datum(mB).attr('d',area).attr('fill',BLUE).attr('fill-opacity',0.1);
  g.append('path').datum(fB).attr('d',area).attr('fill',RED).attr('fill-opacity',0.1);
  markers(g, p.male, xs, ys, '+', BLUE, 1, 3.6, 1.9);
  markers(g, p.fem, xs, ys, 'x', RED, 1, 3.6, 1.9);
  g.append('path').datum(mB).attr('d',line).attr('fill','none').attr('stroke',BLUE).attr('stroke-width',2);
  g.append('path').datum(fB).attr('d',line).attr('fill','none').attr('stroke',RED).attr('stroke-width',2);
  frame(g, BX0, p.y0, BX1, p.y1);
  const ax = g.append('g').attr('transform',`translate(0,${p.y1})`)
   .call(d3.axisBottom(xs).tickValues(p.ticks).tickSize(5).tickPadding(6).tickFormat(d3.format('.1f')));
  styleAxis(ax, 16.5);
  const ay = g.append('g').attr('transform',`translate(${BX0},0)`)
   .call(d3.axisLeft(ys).tickValues(muTicks).tickSize(5).tickPadding(4).tickFormat(d3.format('.3f')));
  styleAxis(ay, 16.5);
  g.append('text').attr('x',(BX0+BX1)/2).attr('y',p.y0-12).attr('dy','0.35em').attr('text-anchor','middle')
   .attr('font-size',16.5).attr('font-family',FONT).text(p.title);
  if(p.legend){
    legendBox(g, 1035, 37.7, 1235, 91.7);
    [[BLUE,'male',51.7],[RED,'female',76]].forEach(([c,lab,yy])=>{
      g.append('line').attr('x1',1041).attr('x2',1076).attr('y1',yy).attr('y2',yy).attr('stroke',c).attr('stroke-width',2);
      const t = g.append('text').attr('x',1089).attr('y',yy).attr('dy','0.35em').attr('font-size',16.5).attr('font-family',FONT);
      t.append('tspan').text('Fitted ');
      t.append('tspan').attr('font-style','italic').text('\u03bc');
      t.append('tspan').text(' (' + lab + ')');
    });
  }
});
{
  const yl = rotLabel(svg, 708, 414, 18);
  yl.append('tspan').text('Inpatient Diabetes Visits per Person per Year (');
  yl.append('tspan').attr('font-style','italic').text('\u03bc');
  yl.append('tspan').text(')');
  svg.append('text').attr('x',990).attr('y',825).attr('dy','0.35em').attr('text-anchor','middle')
   .attr('font-size',18).attr('font-family',FONT).text('Fasting Plasma Glucose (State Average)');
}
// sub-figure captions
svg.append('text').attr('x',285).attr('y',878).attr('dy','0.35em').attr('text-anchor','middle')
  .attr('font-size',24).attr('font-family','"Liberation Serif", serif').text('(a)');
svg.append('text').attr('x',971).attr('y',878).attr('dy','0.35em').attr('text-anchor','middle')
  .attr('font-size',24).attr('font-family','"Liberation Serif", serif').text('(b)');
</script>
</body></html>
